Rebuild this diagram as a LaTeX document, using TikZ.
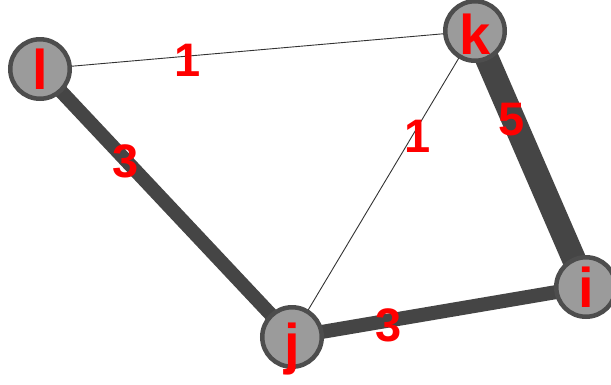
\documentclass[tikz,border=0pt]{standalone}
\usepackage{fontspec}
\setmainfont{Liberation Sans}
\usetikzlibrary{backgrounds}
\definecolor{nodefill}{HTML}{9B9B9B}
\definecolor{nodeline}{HTML}{4D4D4D}
\definecolor{edgeline}{HTML}{454545}
\definecolor{thinline}{HTML}{333333}
\definecolor{labelred}{HTML}{FF0000}
\begin{document}
\begin{tikzpicture}[x=1pt, y=-1pt, line cap=butt]
    \tikzstyle{vertex}=[circle, minimum size=59.5pt, inner sep=0pt, draw=nodeline, line width=4.5pt, fill=nodefill, text=labelred, font=\fontsize{56}{56}\selectfont\bfseries, text height=40pt, text depth=0pt]  % grey discs, red letters
    \tikzstyle{weight}=[text=labelred, font=\fontsize{47}{47}\selectfont\bfseries, text height=34pt, text depth=0pt, inner sep=0pt]
    \tikzstyle{heavy link}=[draw=edgeline];
    \tikzstyle{light link}=[draw=thinline, line width=0.9pt];

    \useasboundingbox (0,0) rectangle (611,384);

    % Vertices
    \node[vertex] (l) at (40,69) {l};
    \node[vertex, text height=46pt] (k) at (475,31) {k};
    \node[vertex, text height=52pt] (j) at (292,337) {j};
    \node[vertex] (i) at (586,287) {i};

    % Weighted edges, behind the vertices
    \begin{pgfonlayer}{background}
    \draw[light link] (l.center) -- node[weight, pos=0.34, yshift=-3pt] {1} (k.center);
    \draw[light link] (j.center) -- node[weight, pos=0.66, xshift=5pt] {1} (k.center);
    \draw[heavy link, line width=14pt] (l.center) -- node[weight, pos=0.34] {3} (j.center);
    \draw[heavy link, line width=14pt] (j.center) -- node[weight, pos=0.33, yshift=-4pt] {3} (i.center);
    \draw[heavy link, line width=24pt] (k.center) -- node[weight, pos=0.34, xshift=-1pt] {5} (i.center);
    \end{pgfonlayer}

\end{tikzpicture}
\end{document}
